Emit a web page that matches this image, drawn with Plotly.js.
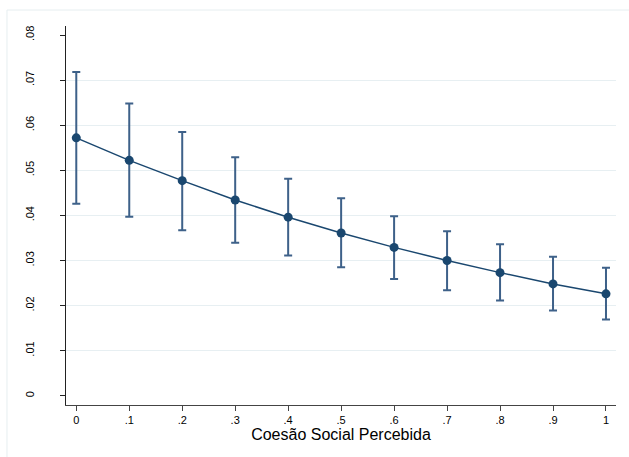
<!DOCTYPE html>
<html>
<head>
<meta charset="utf-8">
<script src="https://cdn.plot.ly/plotly-3.0.1.min.js"></script>
<style>html,body{margin:0;padding:0;background:#fff;}#chart{width:629px;height:457px;}</style>
</head>
<body>
<div id="chart"></div>
<script>
// Data
const xValues = [0, 0.1, 0.2, 0.3, 0.4, 0.5, 0.6, 0.7, 0.8, 0.9, 1];
const estimate = [0.0572, 0.0522, 0.0477, 0.0434, 0.0396, 0.0361, 0.0329, 0.0300, 0.0273, 0.0248, 0.0226];
const upperCI = [0.0718, 0.0648, 0.0585, 0.0529, 0.0481, 0.0438, 0.0398, 0.0365, 0.0336, 0.0308, 0.0284];
const lowerCI = [0.0426, 0.0397, 0.0367, 0.0339, 0.0311, 0.0285, 0.0259, 0.0234, 0.0211, 0.0189, 0.0169];
const xTickVals = [0, 0.1, 0.2, 0.3, 0.4, 0.5, 0.6, 0.7, 0.8, 0.9, 1];
const xTickText = ["0", ".1", ".2", ".3", ".4", ".5", ".6", ".7", ".8", ".9", "1"];
const yTickVals = [0, 0.01, 0.02, 0.03, 0.04, 0.05, 0.06, 0.07, 0.08];
const yTickText = ["0", ".01", ".02", ".03", ".04", ".05", ".06", ".07", ".08"];
const yGridVals = [0.01, 0.02, 0.03, 0.04, 0.05, 0.06, 0.07];
const xTitle = "Coesão Social Percebida";

const errPlus = estimate.map((v, i) => upperCI[i] - v);
const errMinus = estimate.map((v, i) => v - lowerCI[i]);

const navy = '#1a476f';
const font = 'Liberation Sans, Arial, sans-serif';
const yRange = [-0.00206, 0.0820];

const traces = [
  { // invisible trace to carry grid axis
    x: [xValues[0]], y: [estimate[0]], xaxis: 'x', yaxis: 'y2',
    mode: 'markers', marker: {opacity: 0}, hoverinfo: 'skip', showlegend: false
  },
  {
    x: xValues, y: estimate, type: 'scatter', mode: 'lines+markers',
    line: {color: navy, width: 1.5},
    marker: {color: navy, size: 9},
    error_y: {type: 'data', symmetric: false, array: errPlus, arrayminus: errMinus,
              color: '#3e6189', thickness: 2, width: 4},
    showlegend: false
  }
];

const layout = {
  width: 629, height: 457,
  margin: {l: 66, r: 13, t: 26, b: 52, pad: 0},
  paper_bgcolor: '#ffffff', plot_bgcolor: 'rgba(0,0,0,0)',
  font: {family: font, color: '#000', size: 11},
  showlegend: false,
  xaxis: {
    range: [-0.0194, 1.0189], tickvals: xTickVals, ticktext: xTickText,
    showgrid: false, zeroline: false, showline: true, linecolor: '#444', linewidth: 1,
    ticks: 'outside', ticklen: 5, tickcolor: '#444', tickwidth: 1,
    tickfont: {family: font, size: 11, color: '#000'},
    title: {text: xTitle, font: {family: font, size: 16, color: '#000'}, standoff: 0},
    automargin: false
  },
  yaxis: {
    range: yRange, tickvals: yTickVals, ticktext: yTickText, tickangle: -90,
    showgrid: false, zeroline: false, showline: true, linecolor: '#222', linewidth: 1,
    ticks: 'outside', ticklen: 5, tickcolor: '#222', tickwidth: 1,
    tickfont: {family: font, size: 11, color: '#000'},
    ticklabelstandoff: 22,
    automargin: false
  },
  yaxis2: {
    range: yRange, overlaying: 'y', side: 'left', tickvals: yGridVals,
    showgrid: true, gridcolor: '#e7eff2', gridwidth: 1,
    showticklabels: false, ticks: '', zeroline: false, showline: false,
    layer: 'below traces'
  },
  shapes: [
    {type: 'line', xref: 'paper', yref: 'paper', x0: -0.1073, x1: 1.03, y0: 1.0422, y1: 1.0422,
     line: {color: '#e6eef0', width: 1}, layer: 'below'},
    {type: 'line', xref: 'paper', yref: 'paper', x0: -0.1073, x1: -0.1073, y0: 1.0422, y1: -0.15,
     line: {color: '#e6eef0', width: 1}, layer: 'below'}
  ]
};

Plotly.newPlot('chart', traces, layout, {displayModeBar: false, staticPlot: true});
</script>
</body>
</html>
